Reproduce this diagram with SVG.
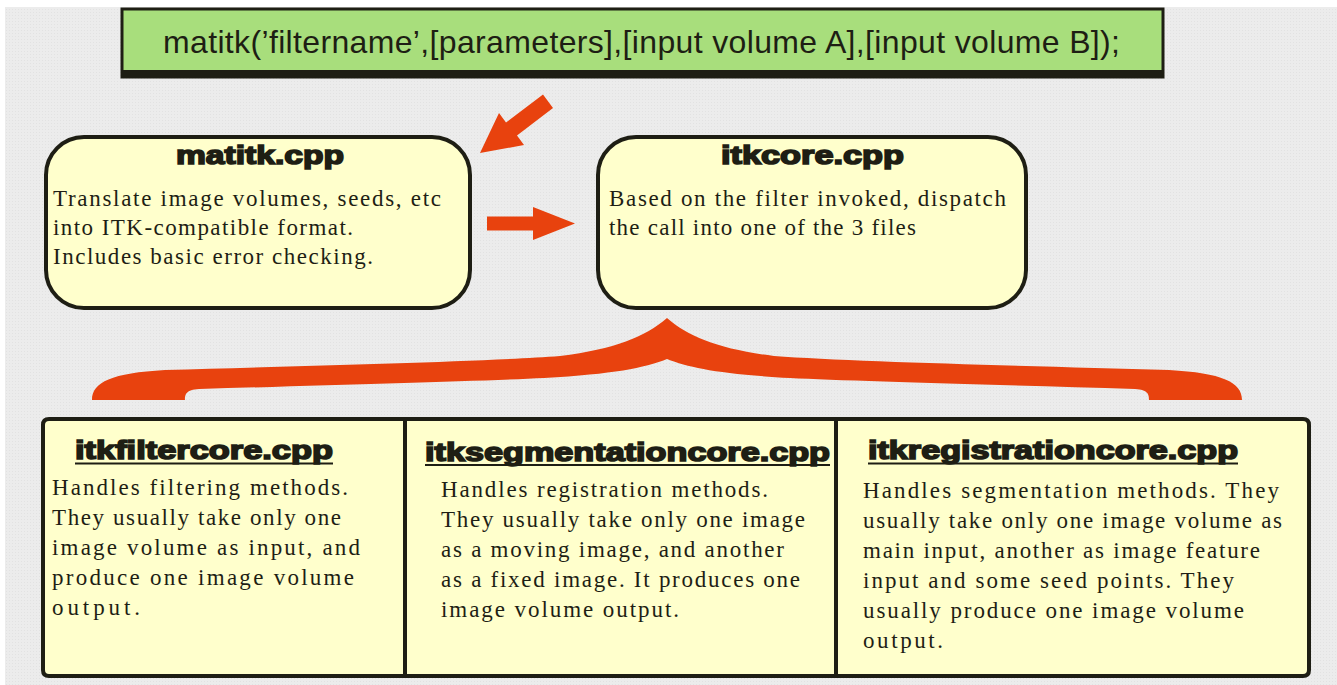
<svg xmlns="http://www.w3.org/2000/svg" width="1337" height="685" viewBox="0 0 1337 685">
<defs>
<pattern id="bgpat" width="3" height="3" patternUnits="userSpaceOnUse">
<rect width="3" height="3" fill="#ececec"/>
<rect width="1" height="1" fill="#e2e2e2"/>
</pattern>
<style>
.box{fill:#ffffcc;stroke:#1e1e14;stroke-width:4}
.ttl{font-family:"Liberation Sans",Arial,sans-serif;font-weight:bold;font-size:26px;fill:#1e1e14;stroke:#1e1e14;stroke-width:1.6}
.body{font-family:"Liberation Serif","Times New Roman",serif;font-size:23px;fill:#1e1e14}
.ul{stroke:#1e1e14;stroke-width:2}
.red{fill:#e8420e}
</style>
</defs>
<rect width="1337" height="685" fill="#ffffff"/>
<rect x="5" y="7" width="1332" height="678" fill="url(#bgpat)"/>

<g id="call">
<rect x="122" y="9" width="1041" height="68" fill="#a8de7c" stroke="#1e1e14" stroke-width="3"/>
<rect x="122" y="70" width="1041" height="8" fill="#1e1e14"/>
<text x="163" y="53" textLength="957" lengthAdjust="spacing" font-family="'Liberation Sans Narrow','Liberation Sans',Arial,sans-serif" font-size="32" fill="#1e1e14">matitk(’filtername’,[parameters],[input volume A],[input volume B]);</text>
</g>

<g id="matitk">
<rect class="box" x="46" y="137" width="424" height="171" rx="38" ry="38"/>
<text class="ttl" x="176" y="164" textLength="168" lengthAdjust="spacingAndGlyphs">matitk.cpp</text>
<text class="body" x="53" y="206" textLength="388">Translate image volumes, seeds, etc</text>
<text class="body" x="53" y="235" textLength="300">into ITK-compatible format.</text>
<text class="body" x="53" y="264" textLength="320">Includes basic error checking.</text>
</g>

<g id="itkcore">
<rect class="box" x="598" y="137" width="428" height="171" rx="38" ry="38"/>
<text class="ttl" x="721" y="164" textLength="183" lengthAdjust="spacingAndGlyphs">itkcore.cpp</text>
<text class="body" x="609" y="206" textLength="397">Based on the filter invoked, dispatch</text>
<text class="body" x="609" y="235" textLength="307">the call into one of the 3 files</text>
</g>

<g id="connectors">
<polygon class="red" points="543,94.5 553,108 517,135.5 524,145 480,153 499,113 506,122.5"/>
<polygon class="red" points="487,216.5 533,216.5 533,207 575,223.5 533,240 533,230.5 487,230.5"/>
<path class="red" d="M92,400 C92,382 112,373 165,370 C300,366 480,362 560,356 C615,349 645,337 667,318 C689,337 719,349 774,356 C854,362 1034,366 1169,370 C1222,373 1242,382 1242,400 L1149,400 C1149,394 1148,390 1135,389 C1000,385 850,381 790,378 C720,374 690,368 667,359 C644,368 614,374 544,378 C484,381 334,385 199,389 C186,390 185,394 185,400 Z"/>
</g>

<g id="itkfiltercore">
<path class="box" d="M405,419 L49,419 Q43,419 43,425 L43,670 Q43,676 49,676 L405,676 Z"/>
<text class="ttl" x="75" y="459" textLength="258" lengthAdjust="spacingAndGlyphs">itkfiltercore.cpp</text>
<line class="ul" x1="75" y1="463.5" x2="333" y2="463.5"/>
<text class="body" x="52" y="495" textLength="296">Handles filtering methods.</text>
<text class="body" x="52" y="525" textLength="289">They usually take only one</text>
<text class="body" x="52" y="555" textLength="308">image volume as input, and</text>
<text class="body" x="52" y="585" textLength="302">produce one image  volume</text>
<text class="body" x="52" y="615" textLength="88">output.</text>
</g>

<g id="itksegmentationcore">
<rect class="box" x="405" y="419" width="431" height="257"/>
<text class="ttl" x="425" y="461" textLength="405" lengthAdjust="spacingAndGlyphs">itksegmentationcore.cpp</text>
<line class="ul" x1="425" y1="465" x2="830" y2="465"/>
<text class="body" x="441" y="497" textLength="327">Handles registration methods.</text>
<text class="body" x="441" y="527" textLength="364">They usually take only one image</text>
<text class="body" x="441" y="557" textLength="343">as a moving image, and another</text>
<text class="body" x="441" y="587" textLength="359">as a fixed image.  It produces one</text>
<text class="body" x="441" y="617" textLength="238">image volume output.</text>
</g>

<g id="itkregistrationcore">
<path class="box" d="M836,419 L1303,419 Q1309,419 1309,425 L1309,670 Q1309,676 1303,676 L836,676 Z"/>
<text class="ttl" x="868" y="459" textLength="370" lengthAdjust="spacingAndGlyphs">itkregistrationcore.cpp</text>
<line class="ul" x1="868" y1="463.5" x2="1238" y2="463.5"/>
<text class="body" x="863" y="498" textLength="416">Handles segmentation methods.  They</text>
<text class="body" x="863" y="528" textLength="419">usually take only one image volume as</text>
<text class="body" x="863" y="558" textLength="397">main input, another as image feature</text>
<text class="body" x="863" y="588" textLength="371">input and some seed points.  They</text>
<text class="body" x="863" y="618" textLength="381">usually produce one image volume</text>
<text class="body" x="863" y="648" textLength="80">output.</text>
</g>
</svg>
